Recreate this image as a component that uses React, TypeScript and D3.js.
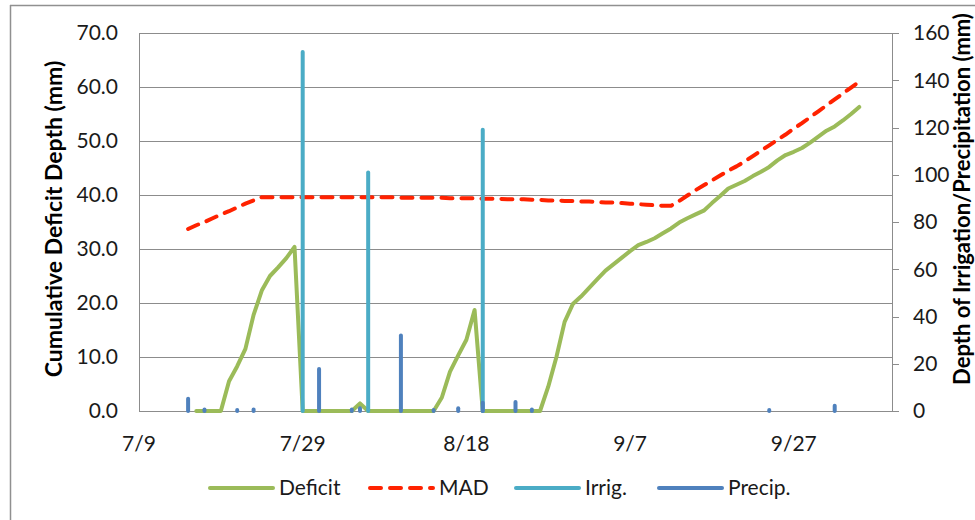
import React from "react";
import * as d3 from "d3";

const YEAR = 2013;
const xStart = "7/9";
const xEnd = "10/9";
const xTickLabels = ["7/9", "7/29", "8/18", "9/7", "9/27"];
const leftTicks = [0, 10, 20, 30, 40, 50, 60, 70];
const rightTicks = [0, 20, 40, 60, 80, 100, 120, 140, 160];

// Cumulative deficit (mm), daily values starting 7/16
const deficitStart = "7/16";
const deficitValues = [
  0, 0, 0, 0,
  5.5, 8.3, 11.5, 17.8, 22.3, 25.0, 26.6, 28.3, 30.4,
  0, 0, 0, 0, 0, 0, 0,
  1.4,
  0, 0, 0, 0, 0, 0, 0, 0, 0,
  2.5, 7.3, 10.3, 13.2, 18.7,
  0, 0, 0, 0, 0, 0, 0, 0,
  4.5, 10.0, 16.5, 19.8,
  21.2, 22.8, 24.4, 26.0, 27.2, 28.4, 29.6, 30.7, 31.3, 32.0, 32.9, 33.8, 34.9, 35.7, 36.4,
  37.1, 38.5, 39.8, 41.2, 41.9, 42.6, 43.5, 44.3, 45.2, 46.4, 47.4, 48.0, 48.7, 49.7, 50.8,
  51.9, 52.7, 53.8, 55.0, 56.3,
];

// MAD (mm), daily values starting 7/15
const madStart = "7/15";
const madValues = [
  33.7, 34.4, 35.0, 35.7, 36.4, 37.0, 37.7, 38.4, 39.0, 39.6,
  39.6, 39.6, 39.6, 39.6, 39.6, 39.6, 39.6, 39.6, 39.6, 39.6,
  39.6, 39.6, 39.6, 39.6, 39.6, 39.6, 39.5, 39.5, 39.5, 39.5,
  39.5, 39.5, 39.4, 39.4, 39.4, 39.4, 39.3, 39.3, 39.3, 39.2,
  39.2, 39.2, 39.1, 39.1, 39.0, 39.0, 38.9, 38.9, 38.8, 38.8,
  38.7, 38.6, 38.6, 38.5, 38.4, 38.3, 38.2, 38.1, 38.0, 38.0,
  38.9, 39.9, 40.9, 41.8, 42.7, 43.6, 44.5, 45.3, 46.2, 47.2,
  48.2, 49.2, 50.2, 51.2, 52.3, 53.3, 54.4, 55.5, 56.6, 57.7,
  58.8, 59.9, 61.0,
];

// Irrigation events (mm)
const irrigDates = ["7/29", "8/6", "8/20"];
const irrigValues = [152, 101, 119];

// Precipitation events (mm)
const precipDates = ["7/15", "7/17", "7/21", "7/23", "7/31", "8/4", "8/5", "8/10", "8/14", "8/17", "8/20", "8/24", "8/26", "9/24", "10/2"];
const precipValues = [5.2, 0.6, 0.4, 0.6, 17.8, 0.6, 1.2, 32, 0.4, 1.2, 3.5, 3.8, 0.6, 0.4, 2.2];

const seriesNames = ["Deficit", "MAD", "Irrig.", "Precip."];
const leftTitle = "Cumulative Deficit Depth (mm)";
const rightTitle = "Depth of Irrigation/Precipitation  (mm)";

const COL_DEF = "#9bbb59";
const COL_MAD = "#ff2200";
const COL_IRR = "#4bacc6";
const COL_PRE = "#4f81bd";
const GRID = "#8c8c8c";
const FONT = "Lato, 'Open Sans', sans-serif";
const MAD_DASH = "11 9";

const parse = (s: string) => {
  const [m, d] = s.split("/").map(Number);
  return new Date(YEAR, m - 1, d);
};

export default function App() {
  const W = 975, H = 520;
  const L = 139, R = 892, T = 33, B = 411;

  const x = d3.scaleTime().domain([parse(xStart), parse(xEnd)]).range([L, R]);
  const yL = d3.scaleLinear().domain([0, 70]).range([B, T]);
  const yR = d3.scaleLinear().domain([0, 160]).range([B, T]);

  const defData = deficitValues.map((v, i) => ({ date: d3.timeDay.offset(parse(deficitStart), i), v }));
  const madData = madValues.map((v, i) => ({ date: d3.timeDay.offset(parse(madStart), i), v }));

  const line = d3
    .line<{ date: Date; v: number }>()
    .x((d) => x(d.date))
    .y((d) => yL(d.v));

  const legendItems = [
    { name: seriesNames[0], color: COL_DEF, dash: undefined as string | undefined, x0: 210 },
    { name: seriesNames[1], color: COL_MAD, dash: MAD_DASH, x0: 370 },
    { name: seriesNames[2], color: COL_IRR, dash: undefined, x0: 516 },
    { name: seriesNames[3], color: COL_PRE, dash: undefined, x0: 659 },
  ];
  const legY = 488;

  return (
    <svg width={W} height={H} style={{ position: "absolute", left: 0, top: 0, background: "#fff" }} fontFamily={FONT}>
      <rect x={0} y={0} width={W} height={H} fill="#fff" />
      {/* frame */}
      <line x1={10} y1={5.5} x2={W} y2={5.5} stroke="#909090" strokeWidth={1.5} />
      <line x1={10.5} y1={5} x2={10.5} y2={H} stroke="#909090" strokeWidth={1.5} />

      {/* gridlines */}
      {leftTicks.map((t) => (
        <line key={"g" + t} x1={L} x2={R} y1={Math.round(yL(t)) + 0.5} y2={Math.round(yL(t)) + 0.5} stroke={GRID} strokeWidth={1} />
      ))}
      {/* axes lines */}
      <line x1={L + 0.5} x2={L + 0.5} y1={T} y2={B} stroke={GRID} />
      <line x1={R + 0.5} x2={R + 0.5} y1={T} y2={B} stroke={GRID} />
      {rightTicks.map((t) => (
        <line key={"rt" + t} x1={R} x2={R + 7} y1={Math.round(yR(t)) + 0.5} y2={Math.round(yR(t)) + 0.5} stroke={GRID} />
      ))}

      {/* left tick labels */}
      {leftTicks.map((t) => (
        <text key={"lt" + t} x={118} y={yL(t)} dy="0.35em" textAnchor="end" fontSize={21} fill="#1a1a1a">
          {d3.format(".1f")(t)}
        </text>
      ))}
      {/* right tick labels */}
      {rightTicks.map((t) => (
        <text key={"rl" + t} x={913} y={yR(t)} dy="0.35em" textAnchor="start" fontSize={21} fill="#1a1a1a">
          {t}
        </text>
      ))}
      {/* x tick labels */}
      {xTickLabels.map((s) => (
        <text key={"x" + s} x={x(parse(s))} y={451} textAnchor="middle" fontSize={21} fill="#1a1a1a">
          {s}
        </text>
      ))}

      {/* axis titles */}
      <text transform={`translate(62,219) rotate(-90)`} textAnchor="middle" fontSize={23} fontWeight="bold" fill="#000">
        {leftTitle}
      </text>
      <text transform={`translate(970,199) rotate(-90)`} textAnchor="middle" fontSize={22} fontWeight="bold" fill="#000">
        {rightTitle}
      </text>

      {/* series */}
      <path d={line(defData) || ""} fill="none" stroke={COL_DEF} strokeWidth={4} strokeLinejoin="round" strokeLinecap="round" />
      <path d={line(madData) || ""} fill="none" stroke={COL_MAD} strokeWidth={4} strokeDasharray={MAD_DASH} strokeLinecap="round" strokeLinejoin="round" />
      {irrigDates.map((s, i) => (
        <line key={"ir" + s} x1={x(parse(s))} x2={x(parse(s))} y1={yR(0)} y2={yR(irrigValues[i])} stroke={COL_IRR} strokeWidth={4} strokeLinecap="round" />
      ))}
      {precipDates.map((s, i) => (
        <line key={"pr" + s} x1={x(parse(s))} x2={x(parse(s))} y1={yR(0)} y2={yR(precipValues[i])} stroke={COL_PRE} strokeWidth={4} strokeLinecap="round" />
      ))}

      {/* legend */}
      {legendItems.map((it) => (
        <g key={it.name}>
          <line x1={it.x0} x2={it.x0 + 63} y1={legY} y2={legY} stroke={it.color} strokeWidth={4} strokeDasharray={it.dash} strokeLinecap="round" />
          <text x={it.x0 + 69} y={legY} dy="0.35em" fontSize={21} fill="#1a1a1a">
            {it.name}
          </text>
        </g>
      ))}
    </svg>
  );
}
